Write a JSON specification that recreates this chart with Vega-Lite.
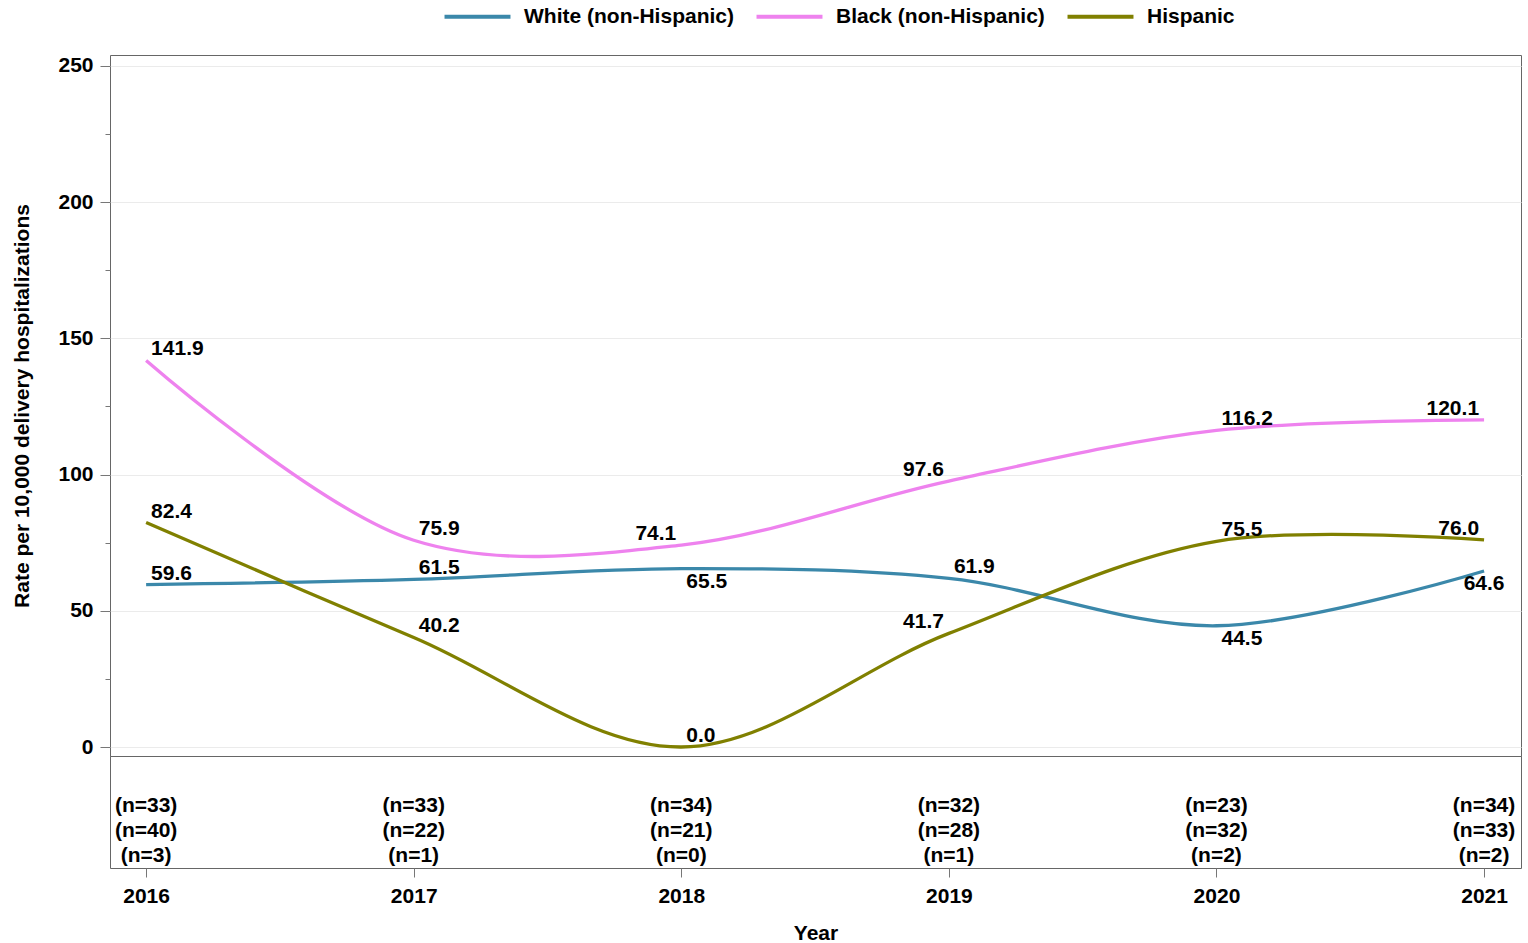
{
  "$schema": "https://vega.github.io/schema/vega-lite/v6.json",
  "background": "white",
  "padding": {"left": 11, "top": 6, "right": 6, "bottom": 0},
  "bounds": "flush",
  "config": {
    "font": "Liberation Sans",
    "view": {"stroke": "#666666", "strokeWidth": 1},
    "concat": {"spacing": 0},
    "axis": {
      "labelFontSize": 21, "labelFontWeight": "bold", "labelColor": "black",
      "titleFontSize": 21, "titleFontWeight": "bold", "titleColor": "black",
      "tickColor": "#777777", "domain": false
    }
  },
  "datasets": {
    "rates": [
      {"year": 2016, "group": "White (non-Hispanic)", "rate": 59.6, "nlabel": "(n=33)"},
      {"year": 2017, "group": "White (non-Hispanic)", "rate": 61.5, "nlabel": "(n=33)"},
      {"year": 2018, "group": "White (non-Hispanic)", "rate": 65.5, "nlabel": "(n=34)"},
      {"year": 2019, "group": "White (non-Hispanic)", "rate": 61.9, "nlabel": "(n=32)"},
      {"year": 2020, "group": "White (non-Hispanic)", "rate": 44.5, "nlabel": "(n=23)"},
      {"year": 2021, "group": "White (non-Hispanic)", "rate": 64.6, "nlabel": "(n=34)"},
      {"year": 2016, "group": "Black (non-Hispanic)", "rate": 141.9, "nlabel": "(n=40)"},
      {"year": 2017, "group": "Black (non-Hispanic)", "rate": 75.9, "nlabel": "(n=22)"},
      {"year": 2018, "group": "Black (non-Hispanic)", "rate": 74.1, "nlabel": "(n=21)"},
      {"year": 2019, "group": "Black (non-Hispanic)", "rate": 97.6, "nlabel": "(n=28)"},
      {"year": 2020, "group": "Black (non-Hispanic)", "rate": 116.2, "nlabel": "(n=32)"},
      {"year": 2021, "group": "Black (non-Hispanic)", "rate": 120.1, "nlabel": "(n=33)"},
      {"year": 2016, "group": "Hispanic", "rate": 82.4, "nlabel": "(n=3)"},
      {"year": 2017, "group": "Hispanic", "rate": 40.2, "nlabel": "(n=1)"},
      {"year": 2018, "group": "Hispanic", "rate": 0.0, "nlabel": "(n=0)"},
      {"year": 2019, "group": "Hispanic", "rate": 41.7, "nlabel": "(n=1)"},
      {"year": 2020, "group": "Hispanic", "rate": 75.5, "nlabel": "(n=2)"},
      {"year": 2021, "group": "Hispanic", "rate": 76.0, "nlabel": "(n=2)"}
    ]
  },
  "vconcat": [
    {
      "width": 1411,
      "height": 701,
      "data": {"name": "rates"},
      "encoding": {
        "x": {"field": "year", "type": "quantitative", "scale": {"domain": [2015.865, 2021.138], "nice": false, "zero": false}, "axis": null},
        "y": {
          "field": "rate", "type": "quantitative",
          "scale": {"domain": [-3.3, 254.0], "nice": false, "zero": false},
          "axis": {
            "title": "Rate per 10,000 delivery hospitalizations",
            "values": [0, 25, 50, 75, 100, 125, 150, 175, 200, 225, 250],
            "labelExpr": "datum.value % 50 === 0 ? datum.label : ''",
            "tickSize": {"condition": {"test": "datum.value % 50 === 0", "value": 10}, "value": 5},
            "gridOpacity": {"condition": {"test": "datum.value % 50 === 0", "value": 1}, "value": 0},
            "grid": true,
            "gridColor": "#ebebeb",
            "labelPadding": 7,
            "titlePadding": 25
          }
        }
      },
      "layer": [
        {
          "mark": {"type": "line", "interpolate": "catmull-rom", "strokeWidth": 3.3},
          "encoding": {
            "color": {
              "field": "group", "type": "nominal",
              "scale": {"domain": ["White (non-Hispanic)", "Black (non-Hispanic)", "Hispanic"], "range": ["#3b88aa", "#ee82ee", "#808000"]},
              "legend": {
                "orient": "none", "legendX": 357, "legendY": -49, "direction": "horizontal", "columns": 3,
                "title": null, "padding": 0,
                "symbolType": "M-5,0H5", "symbolSize": 174, "symbolStrokeWidth": 4,
                "labelFontSize": 21, "labelFontWeight": "bold", "labelColor": "black",
                "labelOffset": 36, "columnPadding": 14, "labelLimit": 400
              }
            }
          }
        },
        {
          "transform": [{"filter": "!((datum.group === 'Black (non-Hispanic)' && (datum.year === 2018 || datum.year === 2019 || datum.year === 2021)) || (datum.group === 'Hispanic' && (datum.year === 2019 || datum.year === 2021)) || (datum.group === 'White (non-Hispanic)' && (datum.year === 2018 || datum.year === 2020 || datum.year === 2021)))"}],
          "mark": {"type": "text", "align": "left", "baseline": "alphabetic", "dx": 5, "dy": -5, "fontSize": 21, "fontWeight": "bold", "color": "black"},
          "encoding": {"text": {"field": "rate", "type": "quantitative", "format": ".1f"}}
        },
        {
          "transform": [{"filter": "(datum.group === 'Black (non-Hispanic)' && (datum.year === 2018 || datum.year === 2019 || datum.year === 2021)) || (datum.group === 'Hispanic' && (datum.year === 2019 || datum.year === 2021))"}],
          "mark": {"type": "text", "align": "right", "baseline": "alphabetic", "dx": -5, "dy": -5, "fontSize": 21, "fontWeight": "bold", "color": "black"},
          "encoding": {"text": {"field": "rate", "type": "quantitative", "format": ".1f"}}
        },
        {
          "transform": [{"filter": "datum.group === 'White (non-Hispanic)' && (datum.year === 2018 || datum.year === 2020)"}],
          "mark": {"type": "text", "align": "left", "baseline": "alphabetic", "dx": 5, "dy": 19, "fontSize": 21, "fontWeight": "bold", "color": "black"},
          "encoding": {"text": {"field": "rate", "type": "quantitative", "format": ".1f"}}
        },
        {
          "transform": [{"filter": "datum.group === 'White (non-Hispanic)' && datum.year === 2021"}],
          "mark": {"type": "text", "align": "center", "baseline": "alphabetic", "dx": 0, "dy": 19, "fontSize": 21, "fontWeight": "bold", "color": "black"},
          "encoding": {"text": {"field": "rate", "type": "quantitative", "format": ".1f"}}
        }
      ]
    },
    {
      "width": 1411,
      "height": 112,
      "data": {"name": "rates"},
      "mark": {"type": "text", "fontSize": 21, "fontWeight": "bold", "baseline": "middle", "align": "center", "color": "black"},
      "encoding": {
        "x": {
          "field": "year", "type": "quantitative",
          "scale": {"domain": [2015.865, 2021.138], "nice": false, "zero": false},
          "axis": {"title": "Year", "values": [2016, 2017, 2018, 2019, 2020, 2021], "format": "d", "grid": false, "tickSize": 9, "labelPadding": 8, "titlePadding": 16, "labelFlush": false}
        },
        "y": {"field": "group", "type": "nominal", "scale": {"type": "point", "padding": 0, "domain": ["White (non-Hispanic)", "Black (non-Hispanic)", "Hispanic"], "range": [50, 100]}, "axis": null},
        "text": {"field": "nlabel", "type": "nominal"}
      }
    }
  ]
}
